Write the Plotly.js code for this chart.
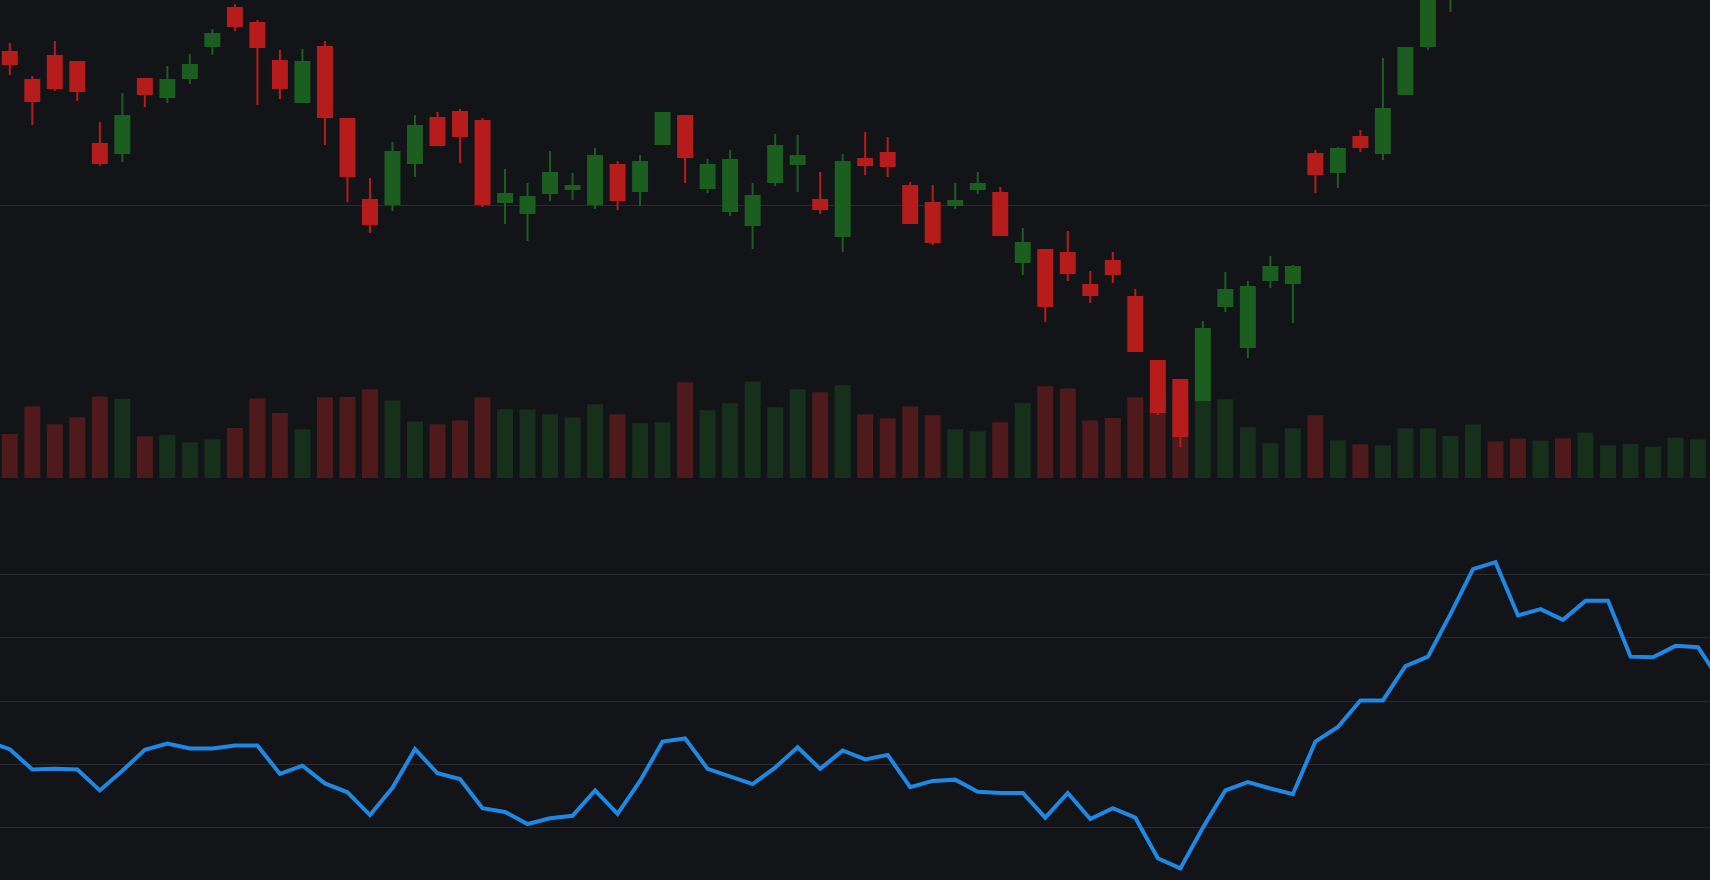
<!DOCTYPE html>
<html>
<head>
<meta charset="utf-8">
<script src="https://cdn.plot.ly/plotly-3.0.1.min.js"></script>
<style>
  html, body { margin: 0; padding: 0; background: #131418; overflow: hidden; }
  #chart { width: 1710px; height: 880px; }
</style>
</head>
<body>
<div id="chart"></div>
<script>
/***********
  DATA
************/

// bar index, -1 and 76 sit just outside the visible window
const bars = [-1, 0, 1, 2, 3, 4, 5, 6, 7, 8, 9, 10, 11, 12, 13, 14, 15, 16, 17, 18, 19,
  20, 21, 22, 23, 24, 25, 26, 27, 28, 29, 30, 31, 32, 33, 34, 35, 36, 37, 38, 39,
  40, 41, 42, 43, 44, 45, 46, 47, 48, 49, 50, 51, 52, 53, 54, 55, 56, 57, 58, 59,
  60, 61, 62, 63, 64, 65, 66, 67, 68, 69, 70, 71, 72, 73, 74, 75, 76];

const open = [116.5, 115.3, 112.5, 114.9, 114.3, 106.1, 105.2, 112.6, 110.8, 112.7, 115.9,
  119.7, 118.2, 114.4, 110.3, 115.8, 108.6, 100.5, 100.1, 104.2, 108.7,
  109.3, 108.4, 100.3, 99.2, 101.2, 101.6, 100.1, 104.0, 101.4, 106.1,
  108.9, 101.7, 99.4, 98.0, 102.3, 104.1, 100.5, 96.9, 104.6, 105.2,
  101.9, 100.2, 100.0, 101.6, 101.2, 94.3, 95.5, 95.2, 92.0, 94.4,
  90.8, 84.4, 82.5, 80.5, 89.9, 85.8, 92.5, 92.2, 105.1, 103.3,
  106.8, 105.2, 111.1, 115.9, 121.2, 123.5, 126.2, 124.6, 122.9, 124.0,
  122.7, 125.2, 126.3, 126.8, 127.4, 128.5, 129.3];

const high = [117.0, 116.2, 112.9, 116.4, 114.3, 108.3, 111.2, 112.6, 113.9, 115.1, 117.6,
  120.1, 118.5, 115.5, 115.6, 116.4, 108.6, 102.7, 106.3, 109.0, 109.3,
  109.6, 108.7, 103.6, 102.2, 105.4, 103.2, 105.7, 104.4, 105.0, 109.2,
  108.9, 104.6, 105.5, 102.2, 107.1, 107.0, 103.3, 105.1, 107.3, 106.8,
  102.3, 102.0, 102.2, 103.3, 101.8, 97.7, 95.5, 97.4, 93.4, 95.3,
  91.6, 84.4, 82.6, 88.4, 93.3, 92.4, 94.9, 94.0, 105.5, 105.8,
  107.5, 114.7, 115.7, 122.0, 124.2, 126.8, 127.1, 125.3, 124.8, 124.7,
  125.9, 127.0, 127.6, 128.1, 129.2, 130.0, 130.6];

const low = [115.0, 113.0, 108.0, 111.4, 110.4, 103.9, 104.3, 109.8, 110.2, 112.1, 115.0,
  117.4, 110.0, 110.6, 110.2, 106.0, 100.3, 97.2, 99.4, 102.8, 106.0,
  104.2, 99.8, 98.1, 96.4, 100.4, 100.5, 99.6, 99.5, 99.9, 106.1,
  102.2, 101.2, 98.9, 95.6, 101.9, 101.3, 99.1, 95.3, 103.0, 102.8,
  98.2, 96.0, 99.6, 101.1, 97.0, 93.0, 88.3, 92.4, 90.2, 92.2,
  85.4, 79.0, 75.8, 80.5, 89.3, 84.7, 91.7, 88.2, 101.2, 101.7,
  105.3, 104.5, 111.0, 115.5, 119.3, 122.9, 123.8, 122.1, 122.3, 121.9,
  122.2, 124.6, 125.8, 126.2, 126.9, 128.0, 128.8];

const close = [115.6, 114.1, 110.4, 111.7, 111.4, 104.2, 108.9, 111.1, 112.5, 114.0, 117.1,
  117.9, 115.8, 111.7, 114.3, 108.8, 102.9, 98.1, 105.3, 107.9, 106.0,
  106.9, 100.1, 101.1, 100.8, 103.2, 101.9, 104.9, 100.5, 104.3, 109.2,
  104.8, 104.0, 104.5, 100.9, 105.9, 104.9, 99.6, 104.3, 104.0, 103.9,
  98.2, 96.3, 100.4, 102.1, 97.0, 96.2, 89.9, 93.2, 91.0, 93.1,
  85.4, 79.3, 76.9, 87.6, 91.5, 91.8, 93.8, 93.8, 103.1, 105.6,
  105.8, 109.6, 115.7, 121.4, 123.6, 126.0, 124.4, 122.8, 124.1, 122.6,
  125.3, 126.4, 126.9, 127.5, 128.6, 129.4, 130.1];

const volume = [1100, 880, 1434, 1074, 1214, 1628, 1580, 834, 860, 714, 774,
  1000, 1588, 1300, 974, 1614, 1620, 1774, 1548, 1128, 1074,
  1154, 1614, 1374, 1368, 1274, 1208, 1474, 1274, 1094, 1114,
  1914, 1354, 1494, 1928, 1414, 1774, 1714, 1854, 1274, 1194,
  1428, 1254, 974, 934, 1114, 1500, 1834, 1788, 1148, 1200,
  1614, 1714, 1554, 1554, 1574, 1014, 694, 994, 1254, 754,
  674, 654, 994, 994, 840, 1068, 734, 788, 748, 794,
  908, 654, 680, 628, 808, 774, 760];

// lower pane indicator
const indicator = [43.6, 42.4, 39.2, 39.3, 39.2, 35.9, 39.0, 42.3, 43.3, 42.5, 42.5,
  43.0, 43.0, 38.5, 39.8, 37.0, 35.6, 32.0, 36.3, 42.4, 38.6,
  37.7, 33.1, 32.5, 30.6, 31.5, 31.9, 35.9, 32.2, 37.4, 43.6,
  44.1, 39.3, 38.1, 36.9, 39.5, 42.7, 39.3, 42.2, 40.8, 41.5,
  36.4, 37.4, 37.6, 35.7, 35.5, 35.5, 31.6, 35.5, 31.4, 33.1,
  31.6, 25.2, 23.6, 30.0, 35.9, 37.2, 36.2, 35.3, 43.6, 45.9,
  50.1, 50.1, 55.5, 57.0, 63.7, 70.8, 71.9, 63.5, 64.5, 62.8,
  65.8, 65.8, 57.0, 56.9, 58.7, 58.5, 53.1];

const priceGrid = [100];
const indicatorGrid = [30, 40, 50, 60, 70];

/***********
  CHART
************/

const upColor = '#1b5e20';
const downColor = '#b71c1c';
const upVolume = '#16301c';
const downVolume = '#4e1a1c';
const gridColor = '#2a2b2e';
const bgColor = '#131418';

const volumeColors = close.map((c, i) => (c >= open[i] ? upVolume : downVolume));

const volumeTrace = {
  type: 'bar',
  x: bars,
  y: volume,
  xaxis: 'x',
  yaxis: 'y',
  marker: { color: volumeColors, line: { width: 0 } },
  hoverinfo: 'skip'
};

const candleTrace = {
  type: 'candlestick',
  x: bars,
  open: open,
  high: high,
  low: low,
  close: close,
  xaxis: 'x',
  yaxis: 'y2',
  whiskerwidth: 0,
  increasing: { line: { color: upColor, width: 2 }, fillcolor: upColor },
  decreasing: { line: { color: downColor, width: 2 }, fillcolor: downColor },
  hoverinfo: 'skip'
};

const lineTrace = {
  type: 'scatter',
  mode: 'lines',
  x: bars,
  y: indicator,
  xaxis: 'x',
  yaxis: 'y3',
  line: { color: '#1e88e5', width: 4 },
  hoverinfo: 'skip'
};

const hidden = {
  showticklabels: false,
  zeroline: false,
  showline: false,
  ticks: ''
};

const layout = {
  width: 1710,
  height: 880,
  margin: { l: 0, r: 0, t: 0, b: 0, pad: 0 },
  paper_bgcolor: bgColor,
  plot_bgcolor: bgColor,
  showlegend: false,
  hovermode: false,
  bargap: 0.29,
  boxgap: 0.38,
  boxgroupgap: 0,
  xaxis: Object.assign({}, hidden, {
    range: [-0.435, 75.53],
    showgrid: false,
    rangeslider: { visible: false },
    anchor: 'y3'
  }),
  yaxis: Object.assign({}, hidden, {
    domain: [0.4568, 1],
    range: [0, 9560],
    showgrid: false
  }),
  yaxis2: Object.assign({}, hidden, {
    overlaying: 'y',
    range: [72.7, 120.5],
    tickvals: priceGrid,
    showgrid: true,
    gridcolor: gridColor,
    gridwidth: 1
  }),
  yaxis3: Object.assign({}, hidden, {
    domain: [0, 0.40],
    anchor: 'x',
    range: [21.77, 77.29],
    tickvals: indicatorGrid,
    showgrid: true,
    gridcolor: gridColor,
    gridwidth: 1
  })
};

Plotly.newPlot('chart', [volumeTrace, candleTrace, lineTrace], layout, {
  displayModeBar: false,
  staticPlot: true
});
</script>
</body>
</html>
